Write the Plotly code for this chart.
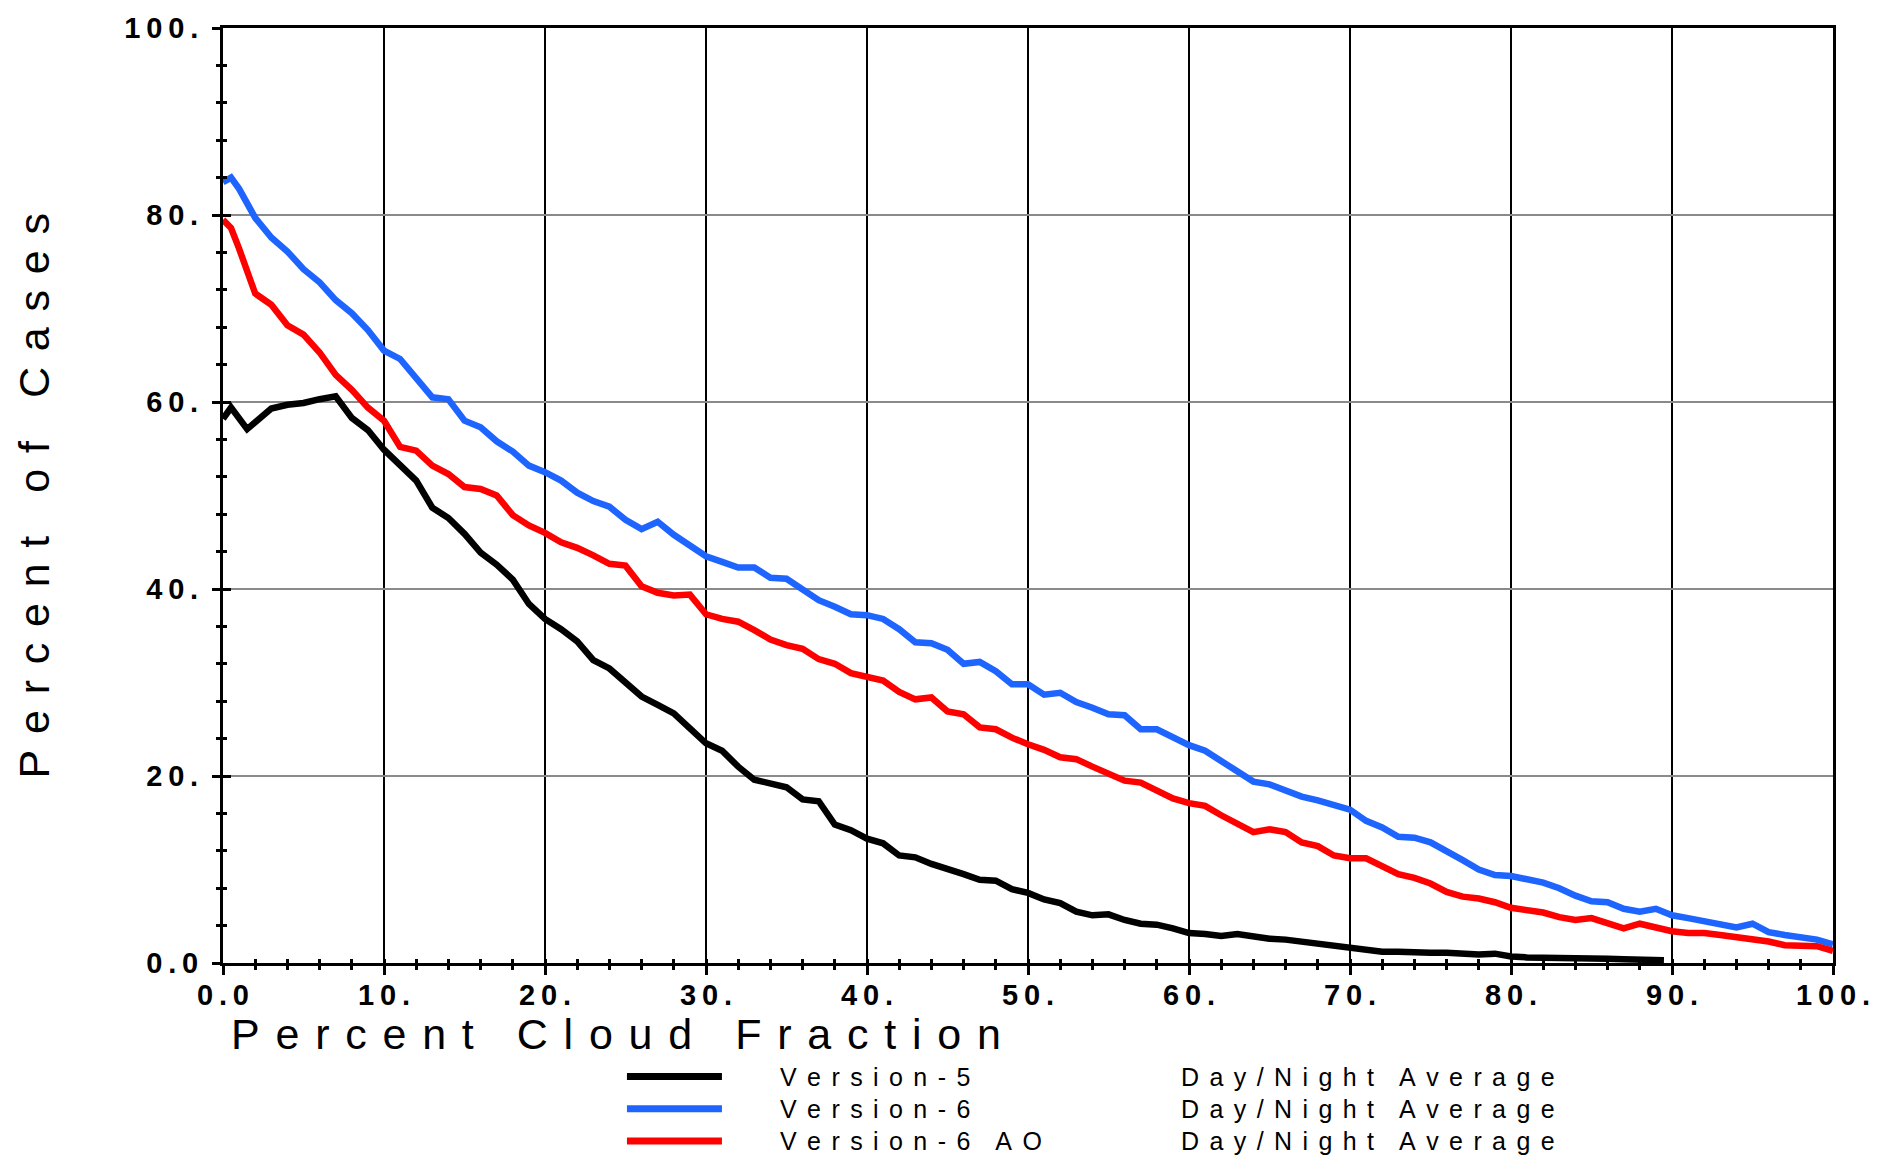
import plotly.graph_objects as go

# ---------------- data ----------------
x_v6 = [0, 0.5] + list(range(1, 101))
version6 = [83.5, 84.0, 82.8, 79.7, 77.6, 76.1, 74.2, 72.8, 70.9, 69.5, 67.7, 65.5,
            64.6, 62.6, 60.5, 60.3, 58.0, 57.3, 55.8, 54.7, 53.2, 52.5,
            51.6, 50.3, 49.4, 48.8, 47.4, 46.4, 47.2, 45.8, 44.6, 43.5,
            42.9, 42.3, 42.3, 41.2, 41.1, 40.0, 38.8, 38.1, 37.3, 37.2,
            36.8, 35.7, 34.3, 34.2, 33.5, 32.0, 32.2, 31.2, 29.8, 29.8,
            28.7, 28.9, 27.9, 27.3, 26.6, 26.5, 25.0, 25.0, 24.2, 23.3,
            22.7, 21.6, 20.3, 19.4, 19.1, 18.5, 17.8, 17.4, 16.9, 16.4,
            15.2, 14.5, 13.5, 13.4, 12.9, 12.0, 11.0, 10.0, 9.4, 9.3,
            8.9, 8.6, 8.0, 7.2, 6.6, 6.5, 5.8, 5.5, 5.8, 5.1,
            4.8, 4.5, 4.2, 3.8, 4.2, 3.3, 3.0, 2.8, 2.5, 2.0]
version6_ao = [79.5, 78.6, 76.4, 71.6, 70.4, 68.2, 67.2, 65.3, 62.9, 61.3, 59.4, 58.0,
               55.2, 54.8, 53.2, 52.3, 50.9, 50.7, 50.0, 47.9, 46.8, 46.0,
               45.0, 44.4, 43.6, 42.7, 42.5, 40.3, 39.6, 39.3, 39.4, 37.3,
               36.8, 36.5, 35.6, 34.6, 34.0, 33.6, 32.5, 32.0, 31.0, 30.6,
               30.2, 29.0, 28.2, 28.4, 26.9, 26.6, 25.2, 25.0, 24.1, 23.4,
               22.8, 22.0, 21.8, 21.0, 20.3, 19.5, 19.3, 18.4, 17.6, 17.1,
               16.8, 15.8, 14.8, 14.0, 14.3, 14.0, 12.9, 12.5, 11.5, 11.2,
               11.2, 10.3, 9.5, 9.1, 8.5, 7.6, 7.1, 6.9, 6.5, 5.9,
               5.6, 5.4, 4.9, 4.6, 4.8, 4.2, 3.7, 4.2, 3.8, 3.4,
               3.2, 3.2, 3.0, 2.8, 2.6, 2.3, 1.9, 1.8, 1.8, 1.3]

x_v5 = [0, 0.5, 1.5] + list(range(3, 90)) + [89.5]
version5 = [58.2, 59.4, 57.1, 59.3, 59.7, 59.9, 60.3, 60.6, 58.3, 57.0, 54.9,
            53.2, 51.6, 48.7, 47.6, 45.9, 43.9, 42.6, 41.0, 38.4, 36.8,
            35.7, 34.4, 32.4, 31.5, 30.0, 28.5, 27.6, 26.7, 25.1, 23.5,
            22.7, 21.0, 19.6, 19.2, 18.8, 17.5, 17.3, 14.8, 14.2, 13.3,
            12.8, 11.5, 11.3, 10.6, 10.1, 9.5, 8.9, 8.8, 7.9, 7.5,
            6.8, 6.4, 5.5, 5.1, 5.2, 4.6, 4.2, 4.1, 3.7, 3.2,
            3.1, 2.9, 3.1, 2.8, 2.6, 2.5, 2.3, 2.0, 1.9, 1.7,
            1.5, 1.2, 1.2, 1.1, 1.1, 1.1, 1.0, 0.9, 1.0, 0.7,
            0.6, 0.6, 0.5, 0.5, 0.5, 0.45, 0.4, 0.35, 0.3, 0.3]

series_names = ["Version-5", "Version-6", "Version-6 AO"]
series_note = "Day/Night Average"
x_tick_vals = [0, 10, 20, 30, 40, 50, 60, 70, 80, 90, 100]
x_tick_labels = ["0.0", "10.", "20.", "30.", "40.", "50.", "60.", "70.", "80.", "90.", "100."]
y_tick_vals = [0, 20, 40, 60, 80, 100]
y_tick_labels = ["0.0", "20.", "40.", "60.", "80.", "100."]
x_title = "Percent Cloud Fraction"
y_title = "Percent of Cases"

# ---------------- styling ----------------
BLACK = "#000000"
BLUE = "#1E64FF"
RED = "#FF0000"
colors = [BLACK, BLUE, RED]
FONT = "Liberation Sans, Arial, Helvetica, sans-serif"
LW = 6.5


def spaced(s, gap, word_gap):
    return word_gap.join(gap.join(list(w)) for w in s.split(" "))


TH = "\u2009"

fig = go.Figure()
fig.add_trace(go.Scatter(x=x_v5, y=version5, mode="lines", name=series_names[0],
                         line=dict(color=BLACK, width=LW)))
fig.add_trace(go.Scatter(x=x_v6, y=version6, mode="lines", name=series_names[1],
                         line=dict(color=BLUE, width=LW)))
fig.add_trace(go.Scatter(x=x_v6, y=version6_ao, mode="lines", name=series_names[2],
                         line=dict(color=RED, width=LW)))
# empty helper trace so the overlay axes (inner tick halves) are drawn
fig.add_trace(go.Scatter(x=[], y=[], xaxis="x2", yaxis="y2", showlegend=False))

tickfont = dict(family=FONT, size=29, color=BLACK, weight=600)

fig.update_layout(
    width=1892, height=1163,
    margin=dict(l=223, r=59, t=20, b=200),
    paper_bgcolor="white", plot_bgcolor="white",
    showlegend=False,
    xaxis=dict(
        range=[0, 100], tickmode="array", tickvals=x_tick_vals,
        ticktext=[spaced(t, TH, TH) for t in x_tick_labels],
        ticks="outside", ticklen=9, tickwidth=2.5, tickcolor=BLACK,
        minor=dict(dtick=2, tick0=0, ticks="outside", ticklen=4, tickwidth=2.5,
                   tickcolor=BLACK, showgrid=False),
        showgrid=True, gridcolor=BLACK, gridwidth=2,
        showline=True, linecolor=BLACK, linewidth=3, mirror=True,
        zeroline=False, tickfont=tickfont, ticklabelstandoff=-5,
    ),
    yaxis=dict(
        range=[0, 100], tickmode="array", tickvals=y_tick_vals,
        ticktext=[spaced(t, TH, TH) for t in y_tick_labels],
        ticks="outside", ticklen=8, tickwidth=2.5, tickcolor=BLACK,
        minor=dict(dtick=4, tick0=0, ticks="outside", ticklen=4, tickwidth=2.5,
                   tickcolor=BLACK, showgrid=False),
        showgrid=True, gridcolor="#8a8a8a", gridwidth=1.5,
        showline=True, linecolor=BLACK, linewidth=3, mirror=True,
        zeroline=False, tickfont=tickfont, ticklabelstandoff=8,
    ),
    xaxis2=dict(
        range=[0, 100], overlaying="x", anchor="y", side="bottom",
        tickmode="linear", dtick=10, tick0=0,
        ticks="inside", ticklen=4, tickwidth=2.5, tickcolor=BLACK,
        minor=dict(dtick=2, tick0=0, ticks="inside", ticklen=4, tickwidth=2.5,
                   tickcolor=BLACK, showgrid=False),
        showticklabels=False, showgrid=False, showline=False, zeroline=False,
    ),
    yaxis2=dict(
        range=[0, 100], overlaying="y", anchor="x", side="left",
        tickmode="linear", dtick=20, tick0=0,
        ticks="inside", ticklen=8, tickwidth=2.5, tickcolor=BLACK,
        minor=dict(dtick=4, tick0=0, ticks="inside", ticklen=4, tickwidth=2.5,
                   tickcolor=BLACK, showgrid=False),
        showticklabels=False, showgrid=False, showline=False, zeroline=False,
    ),
)

annotations = [
    dict(text=spaced(x_title, "\u2009\u2006", "\u2003"), xref="paper", yref="paper",
         x=0.0037, y=-0.0755, xanchor="left", yanchor="middle", showarrow=False,
         font=dict(family=FONT, size=43, color=BLACK)),
    dict(text=spaced(y_title, "\u2009\u2006", "\u2003"), xref="paper", yref="paper",
         x=-0.1174, y=0.5, xanchor="center", yanchor="middle", showarrow=False,
         textangle=-90, font=dict(family=FONT, size=43, color=BLACK)),
]

legend_y = [-0.1214, -0.1559, -0.1905]
shapes = []
for name, col, ly in zip(series_names, colors, legend_y):
    shapes.append(dict(type="line", xref="paper", yref="paper", x0=0.2509, x1=0.3099,
                       y0=ly, y1=ly, line=dict(color=col, width=7)))
    annotations.append(dict(text=spaced(name, "\u2005\u2006", "\u2003"), xref="paper", yref="paper",
                            x=0.3447, y=ly, xanchor="left", yanchor="middle", showarrow=False,
                            font=dict(family=FONT, size=25, color=BLACK)))
    annotations.append(dict(text=spaced(series_note, "\u2005\u2006", "\u2003"), xref="paper",
                            yref="paper", x=0.5938, y=ly, xanchor="left", yanchor="middle",
                            showarrow=False, font=dict(family=FONT, size=25, color=BLACK)))

fig.update_layout(annotations=annotations, shapes=shapes)

fig.write_html("out.html")
